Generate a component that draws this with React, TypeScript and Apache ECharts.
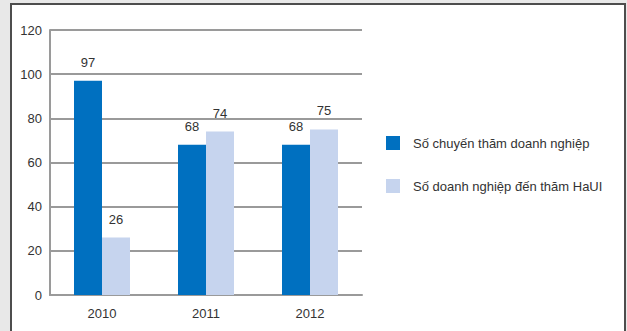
import React, { useEffect, useRef } from "react";
import * as echarts from "echarts";

const categories = ["2010", "2011", "2012"];
const seriesNames = ["Số chuyến thăm doanh nghiệp", "Số doanh nghiệp đến thăm HaUI"];
const visits = [97, 68, 68];
const companies = [26, 74, 75];
const colors = ["#0070C0", "#C6D4EE"];

export default function App() {
  const ref = useRef<HTMLDivElement>(null);
  useEffect(() => {
    if (!ref.current) return;
    const chart = echarts.init(ref.current, null, { renderer: "svg" });
    const font = "Liberation Sans, Arial, sans-serif";
    chart.setOption({
      animation: false,
      backgroundColor: "#e8e8e8",
      textStyle: { fontFamily: font },
      graphic: [
        {
          type: "rect",
          z: -10,
          shape: { x: 11, y: 4, width: 614, height: 340 },
          style: { fill: "#ffffff", stroke: "#4d4d4d", lineWidth: 2 },
        },
      ],
      grid: { left: 50, right: 265, top: 30, bottom: 36, containLabel: false },
      legend: {
        orient: "vertical",
        left: 386,
        top: 136,
        padding: 0,
        itemWidth: 14,
        itemHeight: 14,
        itemGap: 29,
        icon: "rect",
        textStyle: { fontFamily: font, fontSize: 13, color: "#333", padding: [0, 0, 0, 8] },
        data: seriesNames,
      },
      xAxis: {
        type: "category",
        data: categories,
        axisLine: { lineStyle: { color: "#9a9a9a", width: 2 } },
        axisTick: { show: false },
        axisLabel: { color: "#333", fontSize: 13, fontFamily: font, margin: 12 },
      },
      yAxis: {
        type: "value",
        min: 0,
        max: 120,
        interval: 20,
        axisLine: { show: true, lineStyle: { color: "#9a9a9a", width: 2 } },
        axisTick: { show: false },
        splitLine: { lineStyle: { color: "#9a9a9a", width: 2 } },
        axisLabel: { color: "#333", fontSize: 13, fontFamily: font, margin: 8 },
      },
      series: [
        {
          name: seriesNames[0],
          type: "bar",
          data: visits,
          barWidth: 28,
          barGap: "0%",
          itemStyle: { color: colors[0] },
          label: { show: true, position: "top", distance: 12, color: "#333", fontSize: 13, fontFamily: font },
        },
        {
          name: seriesNames[1],
          type: "bar",
          data: companies,
          barWidth: 28,
          itemStyle: { color: colors[1] },
          label: { show: true, position: "top", distance: 12, color: "#333", fontSize: 13, fontFamily: font },
        },
      ],
    });
    return () => chart.dispose();
  }, []);
  return (
    <div
      ref={ref}
      style={{ position: "fixed", left: 0, top: 0, width: 627, height: 331 }}
    />
  );
}
